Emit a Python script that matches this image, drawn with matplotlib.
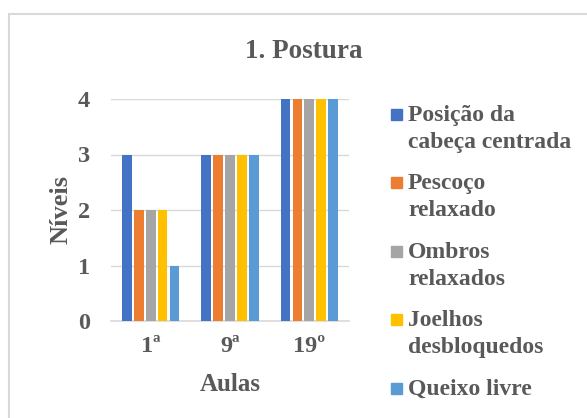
import numpy as np
import matplotlib.pyplot as plt
from matplotlib.patches import Rectangle

plt.rcParams['font.family'] = ['Liberation Serif', 'DejaVu Serif']
plt.rcParams['font.weight'] = 'bold'
plt.rcParams['axes.labelweight'] = 'bold'

aulas = ['1ª', '9ª', '19º']
series = ['Posição da\ncabeça centrada', 'Pescoço\nrelaxado', 'Ombros\nrelaxados',
          'Joelhos\ndesbloquedos', 'Queixo livre']
valores = [[3, 3, 4], [2, 3, 4], [2, 3, 4], [2, 3, 4], [1, 3, 4]]
cores = ['#4472C4', '#ED7D31', '#A5A5A5', '#FFC000', '#5B9BD5']
texto = '#595959'

W, H = 587, 418
fig = plt.figure(figsize=(W / 100, H / 100), dpi=100)
fig.patches.append(Rectangle((9 / W, -0.1), 1.2, 1 - 14 / H + 0.1,
                             transform=fig.transFigure, fill=False,
                             edgecolor='#D9D9D9', linewidth=1.5))
ax = fig.add_axes([111 / W, 1 - 321 / H, 238 / W, 222 / H])

x = np.arange(len(aulas))
passo = 0.151
for i, (s, v) in enumerate(zip(series, valores)):
    ax.bar(x + (i - 2) * passo, v, width=0.122, color=cores[i], label=s, zorder=3)

ax.set_xlim(-0.5, 2.5)
ax.set_ylim(0, 4)
ax.set_yticks([0, 1, 2, 3, 4])
ax.set_xticks(x)
ax.set_xticklabels(aulas)
ax.grid(axis='y', color='#D9D9D9', linewidth=1, zorder=0)
for lado in ['top', 'right', 'left']:
    ax.spines[lado].set_visible(False)
ax.spines['bottom'].set_color('#D9D9D9')
ax.spines['bottom'].set_linewidth(1.2)
ax.tick_params(axis='both', length=0, labelsize=17.5, labelcolor=texto)
ax.tick_params(axis='y', pad=15)
ax.tick_params(axis='x', pad=11)
ax.set_xlabel('Aulas', fontsize=18, color=texto, labelpad=11)
ax.set_ylabel('Níveis', fontsize=19, color=texto, labelpad=4)
fig.text(304 / W, 1 - 51.5 / H, '1. Postura', fontsize=19.5, color=texto,
         ha='center', va='center', weight='bold')

# legenda desenhada a mao (marcador alinhado com a primeira linha)
y0, passo_leg, linha = 121, 68.5, 27
for i, (s, c) in enumerate(zip(series, cores)):
    yb = y0 + i * passo_leg
    fig.patches.append(Rectangle((391 / W, 1 - (yb - 1.5) / H), 11 / W, 11 / H,
                                 transform=fig.transFigure, color=c))
    for j, parte in enumerate(s.split('\n')):
        fig.text(408 / W, 1 - (yb + j * linha) / H, parte, fontsize=17,
                 color=texto, ha='left', va='baseline')

fig.savefig('out.png', dpi=100)
